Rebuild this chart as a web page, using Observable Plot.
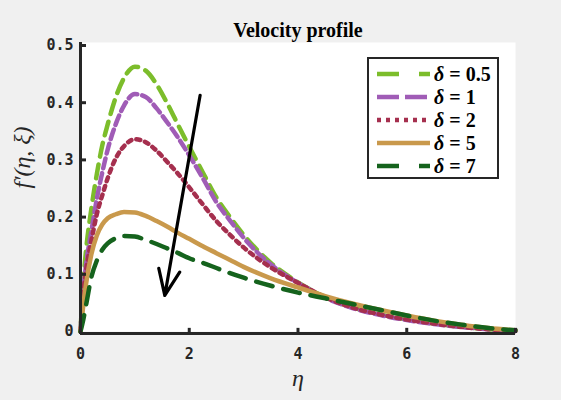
<!DOCTYPE html>
<html>
<head>
<meta charset="utf-8">
<script src="https://cdn.jsdelivr.net/npm/d3@7"></script>
<script src="https://cdn.jsdelivr.net/npm/@observablehq/plot@0.6"></script>
<style>
  html, body { margin: 0; padding: 0; background: #f0f0f0; }
  #chart { width: 561px; height: 400px; }
  svg { display: block; }
</style>
</head>
<body>
<div id="chart"></div>
<script>
// ---- data ----
const eta = [0, 0.05, 0.1, 0.2, 0.3, 0.4, 0.5, 0.65, 0.8, 1.0, 1.2, 1.4, 1.6, 1.8, 2.0, 2.25, 2.5, 2.75, 3.0, 3.5, 4.0, 4.5, 5.0, 5.5, 6.0, 6.5, 7.0, 7.5, 8.0];
const delta05 = [0, 0.085, 0.14, 0.215, 0.275, 0.325, 0.362, 0.41, 0.443, 0.463, 0.456, 0.432, 0.398, 0.36, 0.323, 0.278, 0.234, 0.2, 0.169, 0.12, 0.086, 0.06, 0.042, 0.03, 0.021, 0.014, 0.008, 0.004, 0.001];
const delta1  = [0, 0.07, 0.115, 0.175, 0.232, 0.278, 0.318, 0.363, 0.395, 0.415, 0.41, 0.39, 0.365, 0.338, 0.308, 0.268, 0.226, 0.194, 0.164, 0.117, 0.085, 0.059, 0.041, 0.029, 0.02, 0.013, 0.008, 0.004, 0.001];
const delta2  = [0, 0.065, 0.105, 0.158, 0.205, 0.238, 0.268, 0.303, 0.324, 0.336, 0.331, 0.316, 0.296, 0.275, 0.252, 0.222, 0.193, 0.169, 0.147, 0.112, 0.085, 0.06, 0.042, 0.03, 0.021, 0.014, 0.008, 0.004, 0.001];
const delta5  = [0, 0.045, 0.082, 0.135, 0.168, 0.187, 0.198, 0.205, 0.209, 0.208, 0.202, 0.193, 0.183, 0.172, 0.162, 0.149, 0.137, 0.125, 0.113, 0.093, 0.077, 0.062, 0.049, 0.038, 0.028, 0.019, 0.012, 0.006, 0.002];
const delta7  = [0, 0.02, 0.045, 0.095, 0.124, 0.143, 0.154, 0.163, 0.167, 0.166, 0.16, 0.153, 0.145, 0.137, 0.128, 0.12, 0.111, 0.102, 0.094, 0.08, 0.068, 0.058, 0.048, 0.038, 0.028, 0.019, 0.012, 0.006, 0.002];

const seriesNames = ["0.5", "1", "2", "5", "7"];
const seriesValues = [delta05, delta1, delta2, delta5, delta7];
const seriesColors = ["#7cbd2b", "#a05cb6", "#a52f4e", "#c9994c", "#15631d"];
const seriesDash = ["14,8", "10,5", "4,5", null, "17,11"];
const legendDash = ["22,20", "22,6", "4,5", null, "22,20"];

const xTicks = [0, 2, 4, 6, 8];
const yTicks = [0, 0.1, 0.2, 0.3, 0.4, 0.5];
const arrowX = [2.2, 1.55];   // start, end (eta)
const arrowY = [0.413, 0.063]; // start, end (f')

const titleText = "Velocity profile";
const xLabel = "η";
const yLabel = "f′(η, ξ)";

// ---- build long table ----
const rows = [];
seriesNames.forEach((name, i) => {
  eta.forEach((e, j) => rows.push({ series: name, eta: e, v: seriesValues[i][j] }));
});

const axisColor = "#262626";
const marks = [
  Plot.frame({ fill: "white", stroke: null, insetTop: -3 }),
];
seriesNames.forEach((name, i) => {
  marks.push(Plot.line(rows.filter(d => d.series === name), {
    x: "eta", y: "v", stroke: seriesColors[i], strokeWidth: 4.5,
    strokeDasharray: seriesDash[i] || undefined, curve: "monotone-x"
  }));
});
marks.push(
  Plot.arrow([0], {
    x1: () => arrowX[0], y1: () => arrowY[0], x2: () => arrowX[1], y2: () => arrowY[1],
    stroke: "black", strokeWidth: 3.2, headLength: 13, headAngle: 45
  }),
  // axis lines
  Plot.ruleX([0], { stroke: axisColor, strokeWidth: 3, insetTop: -3, insetBottom: -3 }),
  Plot.ruleY([0], { stroke: axisColor, strokeWidth: 3, dy: 2 }),
  // inward ticks
  Plot.ruleY(yTicks.slice(1), { x1: 0, x2: 0.11, stroke: axisColor, strokeWidth: 3 }),
  Plot.ruleX(xTicks.slice(1), { y1: 0, y2: 0.009, stroke: axisColor, strokeWidth: 3, dy: 2 }),
  // tick labels
  Plot.text(yTicks, { x: 0, y: d => d, text: d => d === 0 ? "0" : d.toFixed(1), textAnchor: "end", dx: -7,
    fill: axisColor, fontSize: 15, fontWeight: "bold", fontFamily: "DejaVu Sans Mono" }),
  Plot.text(xTicks, { x: d => d, y: 0, text: d => String(d), dy: 23,
    fill: axisColor, fontSize: 15, fontWeight: "bold", fontFamily: "DejaVu Sans Mono" }),
  // title and axis labels
  Plot.text([titleText], { frameAnchor: "top", dy: -23, fill: "black", fontSize: 20, fontWeight: "bold", fontFamily: "Liberation Serif" }),
  Plot.text([xLabel], { frameAnchor: "bottom", dy: 54, fill: axisColor, fontSize: 24, fontStyle: "italic", fontFamily: "Liberation Serif" }),
  Plot.text([yLabel], { frameAnchor: "left", dx: -58, rotate: -90, fill: axisColor, fontSize: 24, fontStyle: "italic", fontFamily: "Liberation Serif" })
);

const chart = Plot.plot({
  width: 561,
  height: 400,
  marginLeft: 80,
  marginRight: 46,
  marginTop: 45,
  marginBottom: 69,
  style: { background: "#f0f0f0", overflow: "visible" },
  x: { domain: [0, 8], axis: null },
  y: { domain: [0, 0.5], axis: null },
  marks
});
document.getElementById("chart").appendChild(chart);

// ---- legend (in-plot box, top right) ----
const svg = d3.select(chart);
const lg = svg.append("g").attr("text-anchor", "start");
const boxX = 368, boxY = 58, boxW = 130, boxH = 120, rowH = 23, row0 = 74;
lg.append("rect").attr("x", boxX).attr("y", boxY).attr("width", boxW).attr("height", boxH)
  .attr("fill", "white").attr("stroke", axisColor).attr("stroke-width", 2);
seriesNames.forEach((name, i) => {
  const y = row0 + i * rowH;
  lg.append("line").attr("x1", 377).attr("x2", 430).attr("y1", y).attr("y2", y)
    .attr("stroke", seriesColors[i]).attr("stroke-width", 4.5)
    .attr("stroke-dasharray", legendDash[i] || null);
  const t = lg.append("text").attr("x", 434).attr("y", y).attr("dy", "0.35em").attr("text-anchor", "start")
    .attr("font-family", "Liberation Serif").attr("font-size", 20).attr("font-weight", "bold").attr("fill", "black");
  t.append("tspan").attr("font-style", "italic").text("δ");
  t.append("tspan").text(" = " + name);
});
</script>
</body>
</html>
